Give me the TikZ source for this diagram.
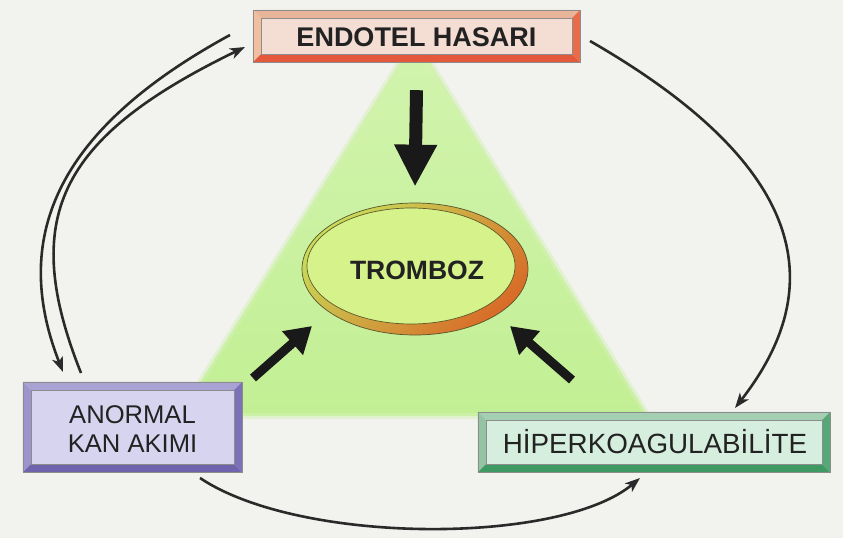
\documentclass[tikz,border=0pt]{standalone}
\usepackage{fontspec}
\setmainfont{Liberation Sans}
\usetikzlibrary{arrows.meta,calc,shapes.geometric}
\definecolor{bg}{HTML}{F2F3EF}
\definecolor{txt}{HTML}{222222}
\definecolor{ink}{HTML}{2A2A2A}
\definecolor{tri}{HTML}{C2EF94}
\definecolor{trilight}{HTML}{D2F4AE}
\definecolor{endofill}{HTML}{F4DDD2}
\definecolor{anofill}{HTML}{D6D4EF}
\definecolor{hipfill}{HTML}{D6EEDD}
\definecolor{ringA}{HTML}{C8DC58}
\definecolor{ringM}{HTML}{D2C444}
\definecolor{ringB}{HTML}{D86C28}
\definecolor{tromfill}{HTML}{D6F28A}
\definecolor{eT}{HTML}{E8B49A}\definecolor{eL}{HTML}{F0BFA0}\definecolor{eB}{HTML}{E4583C}\definecolor{eR}{HTML}{E86C4A}
\definecolor{aT}{HTML}{A9A3D3}\definecolor{aL}{HTML}{9C94CC}\definecolor{aB}{HTML}{6F63AE}\definecolor{aR}{HTML}{7C71B8}
\definecolor{hT}{HTML}{A5CFB2}\definecolor{hL}{HTML}{94C4A3}\definecolor{hB}{HTML}{3E9A62}\definecolor{hR}{HTML}{56A876}
\newcommand{\mybevel}[6]{%
  \fill[#3] (#1.north west) -- (#1.north east) -- ($(#1.north east)+(-#2,#2)$) -- ($(#1.north west)+(#2,#2)$) -- cycle;
  \fill[#4] (#1.north west) -- ($(#1.north west)+(#2,#2)$) -- ($(#1.south west)+(#2,-#2)$) -- (#1.south west) -- cycle;
  \fill[#5] (#1.south west) -- ($(#1.south west)+(#2,-#2)$) -- ($(#1.south east)+(-#2,-#2)$) -- (#1.south east) -- cycle;
  \fill[#6] (#1.south east) -- ($(#1.south east)+(-#2,-#2)$) -- ($(#1.north east)+(-#2,#2)$) -- (#1.north east) -- cycle;
  \draw[black!45,line width=0.6pt] ($(#1.north west)+(#2,#2)$) rectangle ($(#1.south east)+(-#2,-#2)$);
  \draw[black!45,line width=0.6pt] (#1.north west) rectangle (#1.south east);
}
\tikzset{
  boxbase/.style={rectangle, inner sep=0pt, text=txt},
  endobox/.style={boxbase, fill=endofill, minimum width=327pt, minimum height=52pt, font=\bfseries\fontsize{27}{30}\selectfont},
  anobox/.style={boxbase, fill=anofill, minimum width=219pt, minimum height=90pt, align=center, font=\fontsize{25.6}{29}\selectfont},
  hipbox/.style={boxbase, fill=hipfill, minimum width=352pt, minimum height=60pt, font=\fontsize{27.8}{30}\selectfont},
  thinarrow/.style={draw=ink, line width=2.6pt, -{Stealth[length=15pt,width=11pt,inset=4pt]}},
  bigarrow/.style={draw=black!90, line width=13pt, -{Triangle[width=40pt,length=42pt]}},
  midarrow/.style={draw=black!90, line width=9pt, -{Triangle[width=30pt,length=26pt]}},
}
\begin{document}
\begin{tikzpicture}[x=1pt,y=-1pt]
\useasboundingbox (0,0) rectangle (843,538);
\fill[bg] (0,0) rectangle (843,538);
% green triangle
\shade[top color=trilight, bottom color=tri] (415,38) -- (179,416) -- (648,416) -- cycle;
\draw[tri!60!bg, line width=6pt, opacity=0.5, line join=round] (415,38) -- (179,416) -- (648,416) -- cycle;
% boxes
\node[endobox] (endo) at (416.5,36) {};
\mybevel{endo}{8}{eT}{eL}{eB}{eR}
\node[endobox, fill=none] (endot) at (416.5,37) {ENDOTEL HASARI};
\node[anobox] (ano) at (132.5,427) {};
\mybevel{ano}{8}{aT}{aL}{aB}{aR}
\node[anobox, fill=none] (anot) at (132.5,429) {ANORMAL\\KAN AKIMI};
\node[hipbox] (hip) at (654,442) {};
\mybevel{hip}{8}{hT}{hL}{hB}{hR}
\node[hipbox, fill=none] (hipt) at (655,442) {HİPERKOAGULABİLİTE};
% thrombus
\node[ellipse, inner sep=0pt, minimum width=226pt, minimum height=132pt,
      top color=ringA, middle color=ringM, bottom color=ringB, shading angle=45,
      draw=black!50!olive, line width=0.7pt,
      path picture={\fill[tromfill, draw=black!45!olive, line width=0.7pt]
         ($(path picture bounding box.center)+(-4,-3)$) ellipse [x radius=104pt, y radius=58pt];}] (trom) at (415,269) {};
\node[font=\bfseries\fontsize{26.5}{30}\selectfont, text=txt] (tromt) at (417,270) {TROMBOZ};
% coordinates for free ends
\coordinate (la) at (253,378);
\coordinate (lt) at (312,326);
\coordinate (ra) at (572,380);
\coordinate (rt) at (510,326);
\coordinate (o1) at (230,35);
\coordinate (o2) at (63,372);
\coordinate (i1) at (81,373);
\coordinate (i2) at (245,47);
\coordinate (r1) at (590,41);
\coordinate (r2) at (735,408);
\coordinate (b1) at (200,478);
\coordinate (b2) at (640,478);
% thick arrows
\draw[bigarrow] ([yshift=-28pt]endo.south) -- ([yshift=16pt]trom.north);
\draw[midarrow] (la) -- (lt);
\draw[midarrow] (ra) -- (rt);
% thin curved arrows
\draw[thinarrow] (o1) .. controls (63,126) and (8,232) .. (o2);
\draw[thinarrow] (i1) .. controls (20,219.5) and (56,138.6) .. (i2);
\draw[thinarrow] (r1) .. controls (789,155.5) and (839.5,274) .. (r2);
\draw[thinarrow] (b1) .. controls (300,545) and (560,545) .. (b2);
\end{tikzpicture}
\end{document}
